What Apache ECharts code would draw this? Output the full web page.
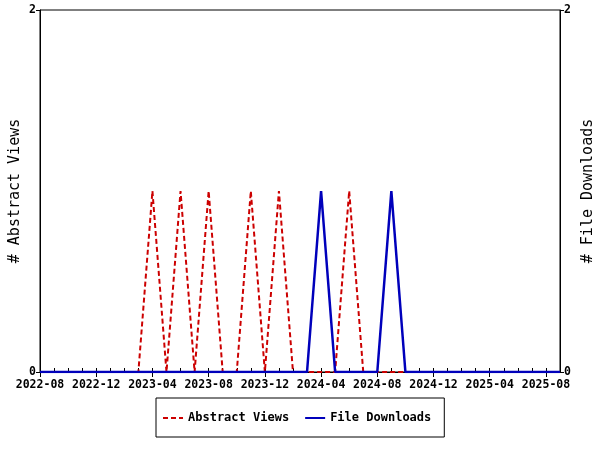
<!DOCTYPE html>
<html><head><meta charset="utf-8">
<script src="https://cdn.jsdelivr.net/npm/echarts@6/dist/echarts.min.js"></script>
<style>html,body{margin:0;padding:0;background:#fff}#c{width:600px;height:450px}</style>
</head><body><div id="c"></div>
<script>
const months = ["2022-08","2022-09","2022-10","2022-11","2022-12","2023-01","2023-02","2023-03","2023-04","2023-05","2023-06","2023-07","2023-08","2023-09","2023-10","2023-11","2023-12","2024-01","2024-02","2024-03","2024-04","2024-05","2024-06","2024-07","2024-08","2024-09","2024-10","2024-11","2024-12","2025-01","2025-02","2025-03","2025-04","2025-05","2025-06","2025-07","2025-08","2025-09"];
const abstractViews = [0,0,0,0,0,0,0,0,1,0,1,0,1,0,0,1,0,1,0,0,0,0,1,0,0,0,0,0,0,0,0,0,0,0,0,0,0,0];
const fileDownloads = [0,0,0,0,0,0,0,0,0,0,0,0,0,0,0,0,0,0,0,0,1,0,0,0,0,1,0,0,0,0,0,0,0,0,0,0,0,0];
const yTicks = [0, 2];

const FONT = 'DejaVu Sans Mono';
const chart = echarts.init(document.getElementById('c'), null, {renderer: 'canvas'});
const axisLbl = {fontFamily: FONT, fontWeight: 'bold', fontSize: 11.5, color: '#000'};
const titleStyle = {fontFamily: FONT, fontWeight: 'normal', fontSize: 15, color: '#000'};
chart.setOption({
  animation: false,
  backgroundColor: '#fff',
  grid: {left: 40, right: 40, top: 10, bottom: 78, containLabel: false, outerBoundsMode: 'none',
         show: true, borderColor: '#000', borderWidth: 1, backgroundColor: 'transparent'},
  legend: {
    bottom: 13, left: 156,
    data: ['Abstract Views', 'File Downloads'],
    borderColor: '#000', borderWidth: 1, borderRadius: 0,
    padding: [14, 13, 13, 6],
    itemWidth: 20, itemHeight: 10, itemGap: 15,
    itemStyle: {opacity: 0},
    textStyle: {fontFamily: FONT, fontWeight: 'bold', fontSize: 12, color: '#000'}
  },
  xAxis: [{
    type: 'category', data: months, boundaryGap: false,
    axisLine: {lineStyle: {color: '#000', width: 1}},
    axisTick: {show: true, interval: 0, inside: true, length: 4, lineStyle: {color: '#000'}},
    axisLabel: {show: false},
    splitLine: {show: false}
  }, {
    type: 'category', data: months, boundaryGap: false, position: 'bottom',
    axisLine: {show: false},
    axisTick: {show: true, interval: 3, length: 5, lineStyle: {color: '#000'}},
    axisLabel: Object.assign({interval: 3, margin: 7}, axisLbl),
    splitLine: {show: false}
  }],
  yAxis: [{
    type: 'value', min: yTicks[0], max: yTicks[1], interval: 2, position: 'left',
    name: '# Abstract Views', nameLocation: 'middle', nameGap: 17, nameRotate: 90, nameMoveOverlap: false,
    nameTextStyle: titleStyle,
    axisLine: {show: true, lineStyle: {color: '#000'}},
    axisTick: {show: true, length: 4, lineStyle: {color: '#000'}},
    axisLabel: Object.assign({margin: 4}, axisLbl),
    splitLine: {show: false}
  }, {
    type: 'value', min: yTicks[0], max: yTicks[1], interval: 2, position: 'right',
    name: '# File Downloads', nameLocation: 'middle', nameGap: 21, nameRotate: 90, nameMoveOverlap: false,
    nameTextStyle: titleStyle,
    axisLine: {show: true, lineStyle: {color: '#000'}},
    axisTick: {show: true, length: 4, lineStyle: {color: '#000'}},
    axisLabel: Object.assign({margin: 4}, axisLbl),
    splitLine: {show: false}
  }],
  series: [{
    name: 'Abstract Views', type: 'line', data: abstractViews, yAxisIndex: 0, xAxisIndex: 0,
    symbol: 'none', color: '#cc0000',
    lineStyle: {color: '#cc0000', width: 2, type: [5, 3]}
  }, {
    name: 'File Downloads', type: 'line', data: fileDownloads, yAxisIndex: 1, xAxisIndex: 0,
    symbol: 'none', color: '#0000bb',
    lineStyle: {color: '#0000bb', width: 2.5, type: 'solid'}
  }]
});
</script></body></html>
